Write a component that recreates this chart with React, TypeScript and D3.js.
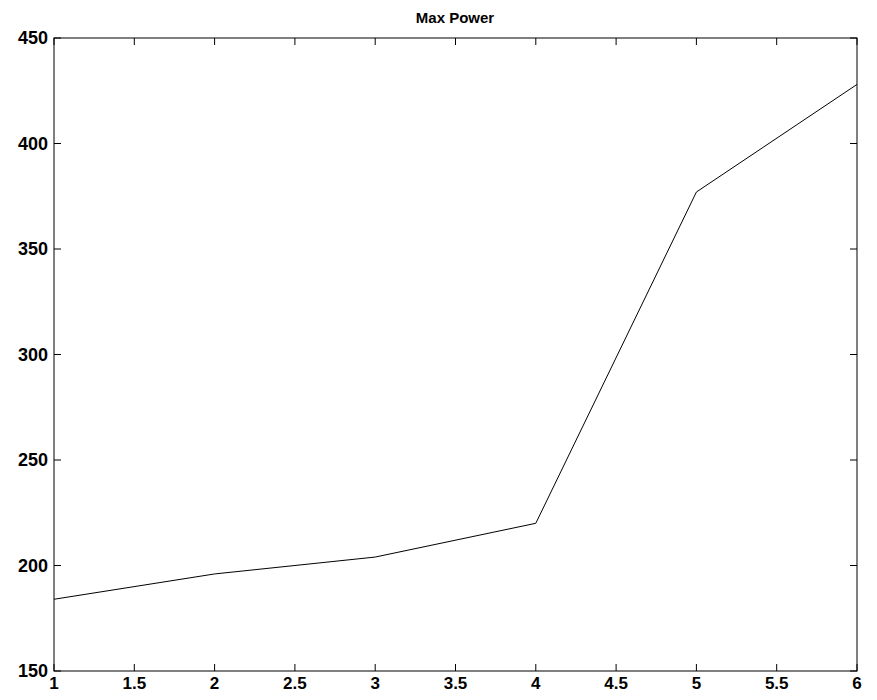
import React from "react";
import * as d3 from "d3";

const xValues = [1, 2, 3, 4, 5, 6];
const yValues = [184, 196, 204, 220, 377, 428];
const xTicks = [1, 1.5, 2, 2.5, 3, 3.5, 4, 4.5, 5, 5.5, 6];
const yTicks = [150, 200, 250, 300, 350, 400, 450];
const title = "Max Power";

export default function App() {
  const W = 877, H = 700;
  const left = 54, right = 857, top = 38, bottom = 671;
  const x = d3.scaleLinear().domain([1, 6]).range([left, right]);
  const y = d3.scaleLinear().domain([150, 450]).range([bottom, top]);
  const line = d3.line<number>().x((_, i) => x(xValues[i])).y((d) => y(d));
  const tl = 7;
  const font = "'Liberation Sans', Arial, sans-serif";
  return (
    <svg width={W} height={H} style={{ position: "absolute", left: 0, top: 0, background: "#fff" }}>
      <rect x={0} y={0} width={W} height={H} fill="#fff" />
      <text x={455} y={23} textAnchor="middle" fontFamily={font} fontWeight="bold" fontSize={15} fill="#000">{title}</text>
      <path d={line(yValues) || ""} fill="none" stroke="#000" strokeWidth={1} />
      <rect x={left} y={top} width={right - left} height={bottom - top} fill="none" stroke="#000" strokeWidth={1} />
      {xTicks.map((t) => (
        <g key={"x" + t}>
          <line x1={x(t)} x2={x(t)} y1={bottom} y2={bottom - tl} stroke="#000" />
          <line x1={x(t)} x2={x(t)} y1={top} y2={top + tl} stroke="#000" />
          <text x={x(t)} y={bottom + 18} textAnchor="middle" fontFamily={font} fontWeight="bold" fontSize={17} fill="#000">{t}</text>
        </g>
      ))}
      {yTicks.map((t) => (
        <g key={"y" + t}>
          <line x1={left} x2={left + tl} y1={y(t)} y2={y(t)} stroke="#000" />
          <line x1={right} x2={right - tl} y1={y(t)} y2={y(t)} stroke="#000" />
          <text x={left - 6} y={y(t) + 6} textAnchor="end" fontFamily={font} fontWeight="bold" fontSize={18} fill="#000">{t}</text>
        </g>
      ))}
    </svg>
  );
}
